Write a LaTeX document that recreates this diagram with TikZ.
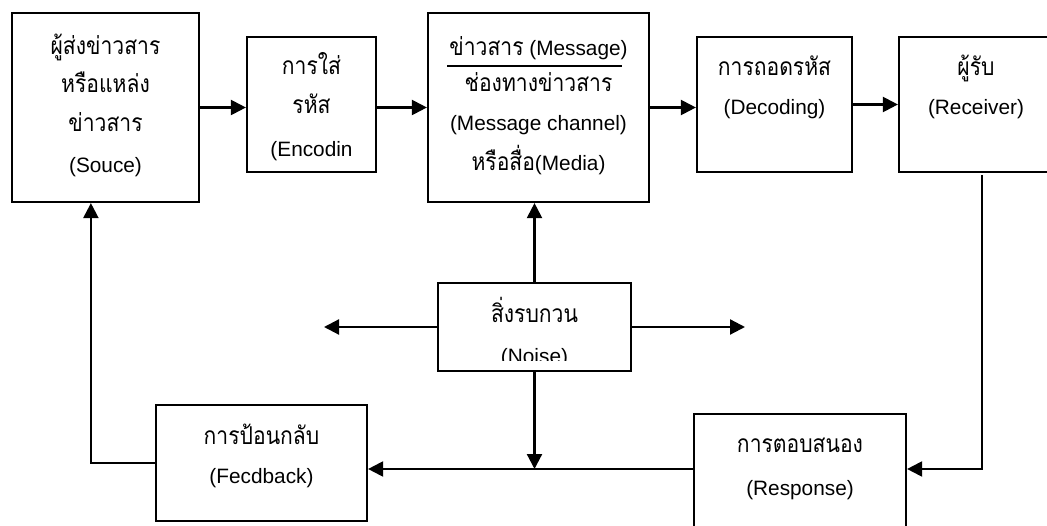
\documentclass[tikz,border=0pt]{standalone}
\usepackage{fontspec}
\setmainfont{Liberation Sans}
\newfontfamily\thf[Script=Thai,FakeStretch=0.86,Scale=1.18]{Loma}
\usetikzlibrary{arrows.meta}
\begin{document}
\begin{tikzpicture}[x=1pt,y=-1pt,
  box/.style={draw, line width=2.2pt, inner sep=0pt},
  txt/.style={anchor=base, inner sep=0pt, font=\fontsize{20.8}{25}\selectfont},
  conn/.style={line width=2.2pt, -{Triangle[length=15pt,width=15pt]}},
  rule/.style={line width=1.8pt}]
\useasboundingbox (0,0) rectangle (1047,526);
% boxes
\node[box, minimum width=187pt, minimum height=189pt] (src) at (105.5,107.5) {};
\node[box, minimum width=129pt, minimum height=135pt] (enc) at (311.5,104.5) {};
\node[box, minimum width=221pt, minimum height=189pt] (msg) at (538.5,107.5) {};
\node[box, minimum width=155pt, minimum height=135pt] (dec) at (774.5,104.5) {};
\node[box, minimum width=154pt, minimum height=135pt] (rcv) at (976,104.5) {};
\node[box, minimum width=193pt, minimum height=88pt] (noise) at (534.5,327) {};
\node[box, minimum width=211pt, minimum height=116pt] (fb) at (261.5,463) {};
\node[box, minimum width=212pt, minimum height=113pt] (resp) at (800,470.5) {};
% texts
\node[txt] (src1) at (105.5,55) {\thf ผู้ส่งข่าวสาร};
\node[txt] (src2) at (105.5,93) {\thf หรือแหล่ง};
\node[txt] (src3) at (105.5,132) {\thf ข่าวสาร};
\node[txt] (src4) at (105.5,173) {(Souce)};
\node[txt] (enc1) at (311.5,75) {\thf การใส่};
\node[txt] (enc2) at (311.5,114) {\thf รหัส};
\node[txt] (enc3) at (311.5,157) {(Encodin};
\node[txt] (msg1) at (538.5,56) {{\thf ข่าวสาร} (Message)};
\node[txt] (msg2) at (538.5,92) {\thf ช่องทางข่าวสาร};
\node[txt] (msg3) at (538.5,131) {(Message channel)};
\node[txt] (msg4) at (538.5,171) {{\thf หรือสื่อ}(Media)};
\draw[rule] (447,66) -- (622,66);
\node[txt] (dec1) at (774.5,76) {\thf การถอดรหัส};
\node[txt] (dec2) at (774.5,115) {(Decoding)};
\node[txt] (rcv1) at (976,76) {\thf ผู้รับ};
\node[txt] (rcv2) at (976,115) {(Receiver)};
\node[txt] (noise1) at (534.5,323) {\thf สิ่งรบกวน};
\begin{scope}
  \clip (438,283) rectangle (631,361);
  \node[txt] (noise2) at (534.5,364) {(Noise)};
\end{scope}
\node[txt] (fb1) at (261.5,445) {\thf การป้อนกลับ};
\node[txt] (fb2) at (261.5,483) {(Fecdback)};
\node[txt] (resp1) at (800,453) {\thf การตอบสนอง};
\node[txt] (resp2) at (800,495) {(Response)};
% connectors
\coordinate (j) at (536,469);
\coordinate (nl) at (324,327);
\coordinate (nr) at (745,327);
\coordinate (rout) at (982,175);
\draw[conn] (src.east) -- (src.east -| enc.west);
\draw[conn] (msg.west -| enc.east) -- (msg.west);
\draw[conn] (msg.east) -- (msg.east -| dec.west);
\draw[conn] (dec.east) -- (rcv.west);
\draw[conn] (noise.north) -- (noise.north |- msg.south);
\draw[conn] (noise.west) -- (nl);
\draw[conn] (noise.east) -- (nr);
\draw[conn] (noise.south) -- (noise.south |- j);
\draw[conn] (j -| resp.west) -- (j -| fb.east);
\draw[conn] (rout) |- (j -| resp.east);
\draw[conn] (fb.west) -| ([xshift=80pt]src.south west);
\end{tikzpicture}
\end{document}
